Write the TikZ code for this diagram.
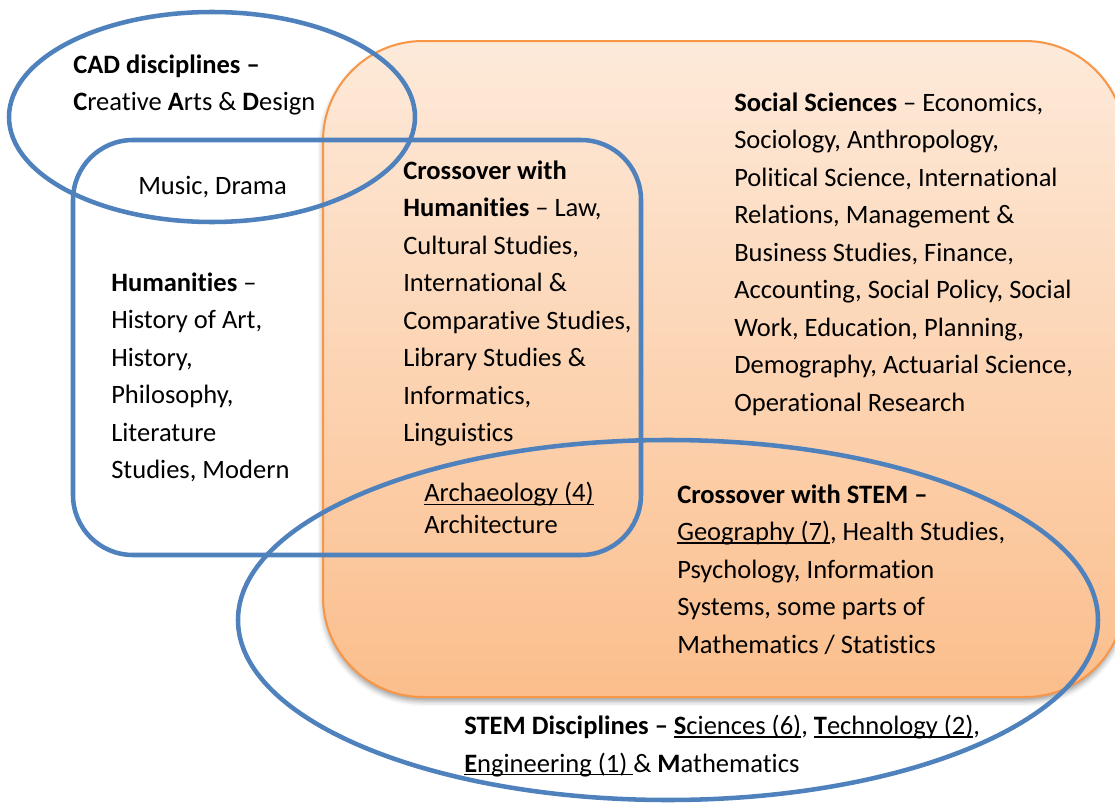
\documentclass[tikz,border=0pt]{standalone}
\usepackage{fontspec}
\setmainfont{Carlito}[Ligatures={NoCommon}]
\usetikzlibrary{shadows.blur}
\definecolor{vblue}{HTML}{4F81BD}
\definecolor{vorange}{HTML}{F79646}
\definecolor{ftop}{RGB}{253,234,218}
\definecolor{fbot}{RGB}{251,190,140}
\newsavebox{\ulxbox}
\newcommand\ulx[1]{\sbox{\ulxbox}{#1}\rlap{\rule[-2.5pt]{\wd\ulxbox}{1.1pt}}\usebox{\ulxbox}}
\tikzset{
  setline/.style={draw=vblue, line width=3.4pt},
  lbl/.style={anchor=base west, inner sep=0pt, align=left,
    font=\fontsize{19.9pt}{28.1pt}\selectfont},
}
\begin{document}
\begin{tikzpicture}[x=0.75pt,y=-0.75pt]
\useasboundingbox (0,0) rectangle (1115,803);
% social sciences region
\path[draw=vorange, line width=1.5pt, top color=ftop, bottom color=fbot,
  rounded corners=75pt,
  blur shadow={shadow xshift=0pt, shadow yshift=-3pt, shadow blur radius=4pt, shadow opacity=40}]
  (323,41) rectangle (1125,697);
% CAD ellipse
\draw[setline] (212,117) ellipse [x radius=203, y radius=105];
% humanities rounded rectangle
\draw[setline, rounded corners=45pt] (73,140) rectangle (641,555);
% STEM ellipse
\draw[setline] (668,620) ellipse [x radius=430, y radius=180];
% texts (anchored at the baseline of their last line)
\node[lbl] (cad) at (73,110.5) {\textbf{CAD disciplines –}\\\textbf{C}reative \textbf{A}rts \& \textbf{D}esign};
\node[lbl] (music) at (138,194) {Music, Drama};
\node[lbl] (crosshum) at (403,441.5) {\textbf{Crossover with}\\\textbf{Humanities} – Law,\\Cultural Studies,\\International \&\\Comparative Studies,\\Library Studies \&\\Informatics,\\Linguistics};
\node[lbl] (hum) at (111,478.5) {\textbf{Humanities} –\\History of Art,\\History,\\Philosophy,\\Literature\\Studies, Modern};
\node[lbl] (soc) at (734,411) {\textbf{Social Sciences} – Economics,\\Sociology, Anthropology,\\Political Science, International\\Relations, Management \&\\Business Studies, Finance,\\Accounting, Social Policy, Social\\Work, Education, Planning,\\Demography, Actuarial Science,\\Operational Research};
\node[lbl, font=\fontsize{19.9pt}{23.3pt}\selectfont] (arch) at (424,533) {\ulx{Archaeology (4)}\\Architecture};
\node[lbl] (crossstem) at (677,653) {\textbf{Crossover with STEM –}\\\ulx{Geography (7)}, Health Studies,\\Psychology, Information\\Systems, some parts of\\Mathematics / Statistics};
\node[lbl] (stem) at (464,772) {\textbf{STEM Disciplines –} \ulx{\textbf{S}ciences (6)}, \ulx{\textbf{T}echnology (2)},\\\ulx{\textbf{E}ngineering (1)\ }\& \textbf{M}athematics};
\end{tikzpicture}
\end{document}
